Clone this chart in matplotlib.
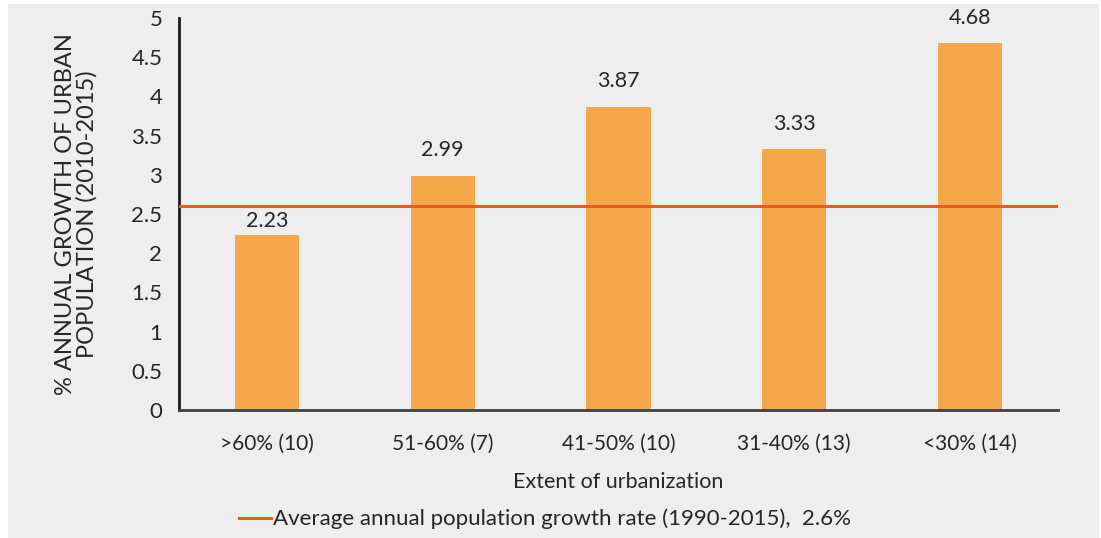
import matplotlib
matplotlib.use('Agg')
import matplotlib.pyplot as plt
from matplotlib.patches import Rectangle
from matplotlib.lines import Line2D

plt.rcParams['font.family'] = ['Lato', 'DejaVu Sans']

categories = ['>60% (10)', '51-60% (7)', '41-50% (10)', '31-40% (13)', '<30% (14)']
growth = [2.23, 2.99, 3.87, 3.33, 4.68]
avg_rate = 2.6
yticks = [0, 0.5, 1, 1.5, 2, 2.5, 3, 3.5, 4, 4.5, 5]

bar_color = '#f4a84c'
line_color = '#eb5d1c'
text_color = '#262626'
bg = '#eeeeee'

fig = plt.figure(figsize=(11.01, 5.38), dpi=100)
fig.patch.set_facecolor('white')
# grey panel behind everything, small white margin top/left
fig.patches.append(Rectangle((8 / 1101, 0), 1091 / 1101, 534 / 538,
                             transform=fig.transFigure, facecolor=bg,
                             edgecolor='none', zorder=-10))

ax = fig.add_axes([179 / 1101, 1 - 410 / 538, (1058 - 179) / 1101, (410 - 18) / 538])
ax.set_facecolor('none')

x = list(range(len(categories)))
ax.bar(x, growth, width=0.365, color=bar_color, zorder=2)

# first label sits tight to its bar so it stays under the average line
label_gap = [3, 11, 11, 11, 11]
for xi, v, gap in zip(x, growth, label_gap):
    ax.annotate(f'{v:.2f}', (xi, v), xytext=(0, gap), textcoords='offset points',
                ha='center', va='bottom', fontsize=15.5, color=text_color)

ax.axhline(avg_rate, color=line_color, lw=2.2, zorder=3)

ax.set_xlim(-0.5, len(categories) - 0.5)
ax.set_ylim(0, 5)
ax.set_yticks(yticks)
ax.set_yticklabels([f'{t:g}' for t in yticks], fontsize=16, color=text_color)
ax.set_xticks(x)
ax.set_xticklabels(categories, fontsize=15, color=text_color)
ax.tick_params(axis='x', length=0, pad=17)
ax.tick_params(axis='y', length=0, pad=12)

for s in ['top', 'right']:
    ax.spines[s].set_visible(False)
ax.spines['left'].set_color('#1a1a1a')
ax.spines['left'].set_linewidth(2)
ax.spines['bottom'].set_color('#404040')
ax.spines['bottom'].set_linewidth(2)

ax.set_xlabel('Extent of urbanization', fontsize=15.5, color=text_color, labelpad=13)
ax.set_ylabel('% ANNUAL GROWTH OF URBAN\nPOPULATION (2010-2015)', fontsize=17,
              color=text_color, labelpad=24, linespacing=1.0)

handle = Line2D([], [], color=line_color, lw=2.2)
fig.legend([handle], ['Average annual population growth rate (1990-2015),  2.6%'],
           loc='center left', bbox_to_anchor=(219 / 1101, 1 - 519 / 538),
           frameon=False, fontsize=16, handlelength=1.45, handletextpad=0.1,
           labelcolor=text_color)

fig.savefig('out.png', dpi=100, facecolor=fig.get_facecolor())
